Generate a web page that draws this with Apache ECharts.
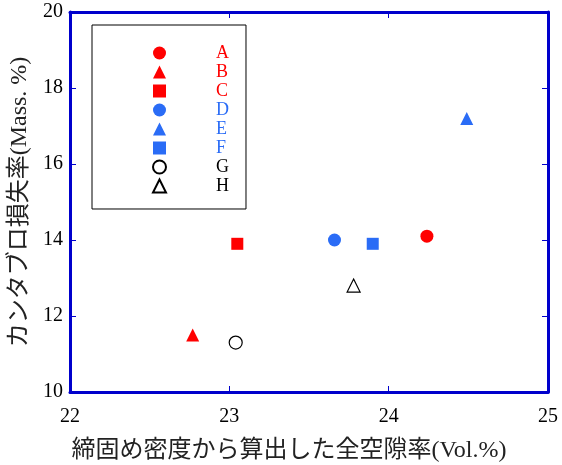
<!DOCTYPE html>
<html>
<head>
<meta charset="utf-8">
<script src="https://cdn.jsdelivr.net/npm/echarts@6/dist/echarts.min.js"></script>
<style>
  html, body { margin: 0; padding: 0; background: #fff; }
  #chart { width: 562px; height: 465px; }
</style>
</head>
<body>
<div id="chart"></div>
<script>
// 読み取った値
const names = ['A', 'B', 'C', 'D', 'E', 'F', 'G', 'H'];
const xVals = [24.24, 22.77, 23.05, 23.66, 24.49, 23.90, 23.04, 23.78];
const yVals = [14.1, 11.5, 13.9, 14.0, 17.2, 13.9, 11.3, 12.8];
const symbols = ['circle', 'triangle', 'rect', 'circle', 'triangle', 'rect', 'emptyCircle', 'emptyTriangle'];
const colors = ['#ff0000', '#ff0000', '#ff0000', '#2a6cf6', '#2a6cf6', '#2a6cf6', '#000000', '#000000'];

const frameBlue = '#0000cc';
const serif = '"Liberation Serif", "Noto Sans CJK JP", serif';

const chart = echarts.init(document.getElementById('chart'));

const series = names.map((n, i) => {
  const hollow = symbols[i].indexOf('empty') === 0;
  return {
    name: n,
    type: 'scatter',
    symbol: hollow ? symbols[i].replace('empty', '').toLowerCase() : symbols[i],
    symbolSize: symbols[i] === 'rect' ? 12 : 13,
    itemStyle: hollow
      ? { color: '#fff', borderColor: '#000', borderWidth: 1.2, opacity: 1 }
      : { color: colors[i], opacity: 1 },
    data: [[xVals[i], yVals[i]]]
  };
});

const axisCommon = {
  axisLine: { show: true, lineStyle: { color: frameBlue, width: 3 } },
  axisTick: { show: true, inside: true, length: 6, lineStyle: { color: frameBlue, width: 1 } },
  splitLine: { show: false }
};

chart.setOption({
  animation: false,
  grid: { left: 70, top: 12, right: 14, bottom: 73, outerBoundsMode: 'none' },
  legend: {
    orient: 'vertical',
    left: 92,
    top: 25,
    padding: [19, 17, 14, 60],
    borderColor: '#000',
    borderWidth: 1,
    itemWidth: 13,
    itemHeight: 13,
    itemGap: 1,
    data: names.map((n, i) => ({ name: n, textStyle: { color: colors[i] } })),
    formatter: n => '{t|' + n + '}',
    textStyle: {
      fontFamily: serif,
      fontSize: 18,
      rich: { t: { padding: [0, 0, 0, 45], fontFamily: serif, fontSize: 18 } }
    }
  },
  xAxis: [
    Object.assign({
      type: 'value', min: 22, max: 25, interval: 1,
      name: '締固め密度から算出した全空隙率(Vol.%)',
      nameLocation: 'middle', nameGap: 47,
      nameTextStyle: { color: '#222', fontFamily: serif, fontSize: 24, padding: [0, 40, 0, 0] },
      axisLabel: { color: '#000', fontFamily: serif, fontSize: 20, margin: 15 }
    }, axisCommon),
    Object.assign({
      type: 'value', min: 22, max: 25, interval: 1, position: 'top',
      axisLabel: { show: false }
    }, axisCommon)
  ],
  yAxis: [
    Object.assign({
      type: 'value', min: 10, max: 20, interval: 2,
      name: 'カンタブロ損失率(Mass. %)',
      nameLocation: 'middle', nameGap: 33,
      nameTextStyle: { color: '#222', fontFamily: serif, fontSize: 24 },
      axisLabel: { color: '#000', fontFamily: serif, fontSize: 20, margin: 7 }
    }, axisCommon),
    Object.assign({
      type: 'value', min: 10, max: 20, interval: 2, position: 'right',
      axisLabel: { show: false }
    }, axisCommon)
  ],
  series: series
});
</script>
</body>
</html>
